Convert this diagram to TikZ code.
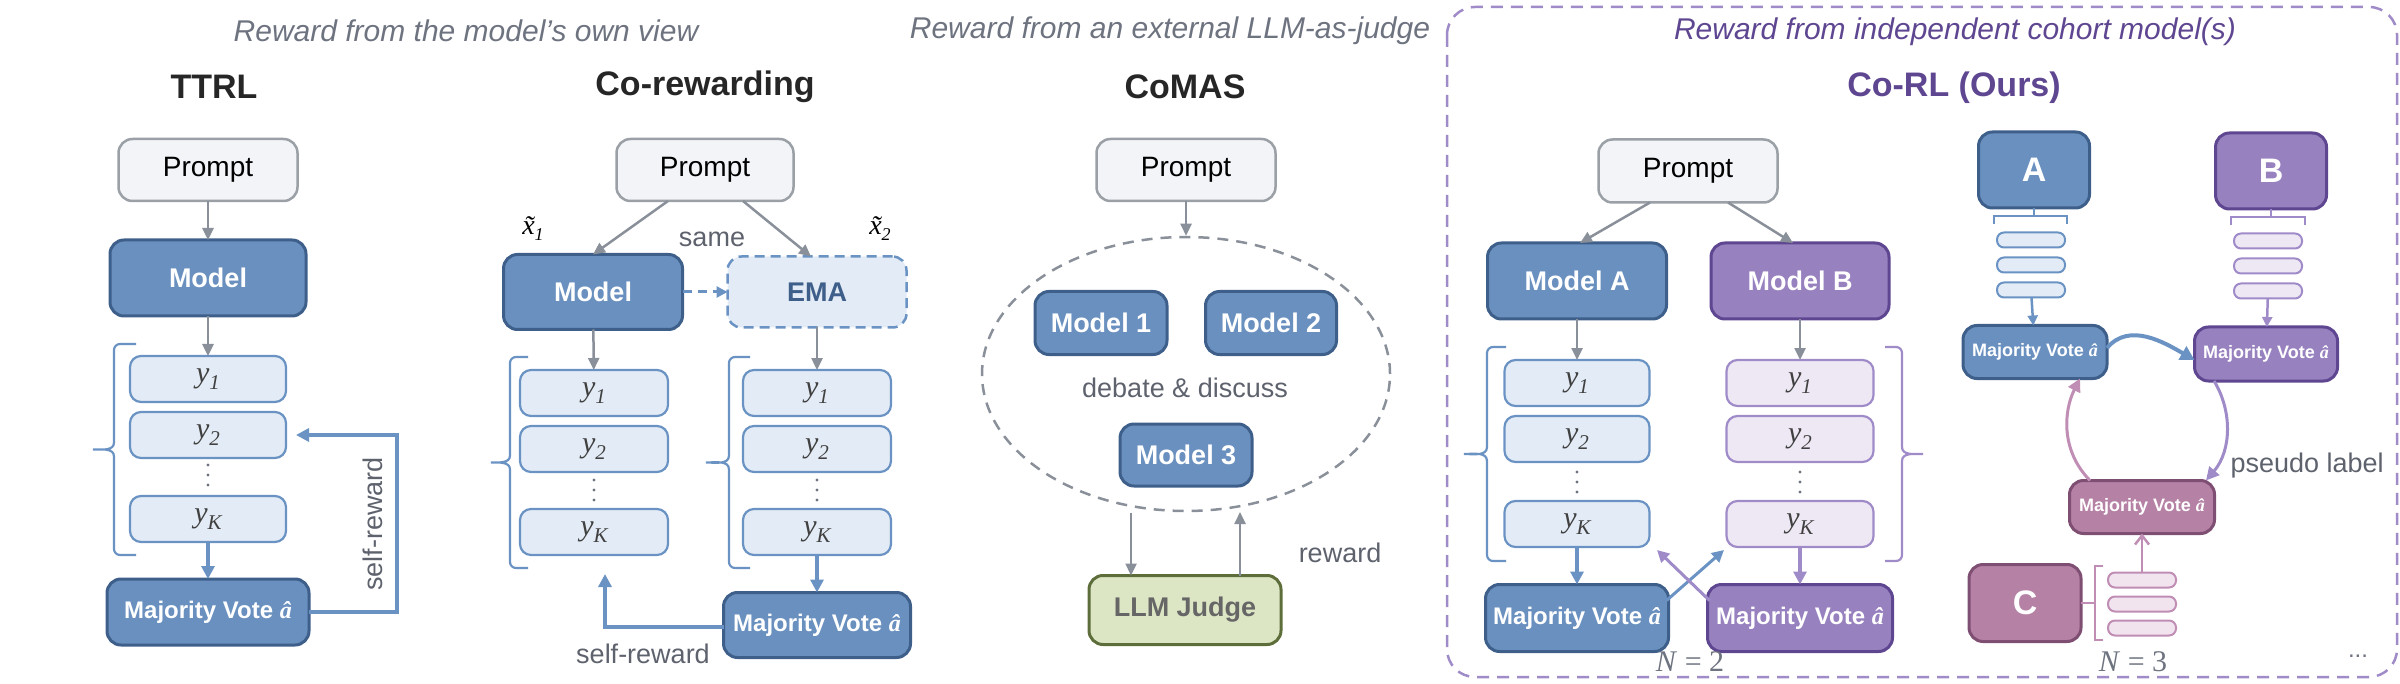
\documentclass[tikz,border=0pt]{standalone}
\usepackage{fontspec}
\setmainfont{Liberation Sans}
\newfontfamily\sr{Liberation Serif}
\usetikzlibrary{arrows.meta,shapes.geometric,calc}
\definecolor{bfill}{HTML}{6990BF}
\definecolor{bdraw}{HTML}{3E5F8A}
\definecolor{lbfill}{HTML}{E3ECF6}
\definecolor{lbdraw}{HTML}{6A93C4}
\definecolor{pfill}{HTML}{9781BF}
\definecolor{pdraw}{HTML}{5E4691}
\definecolor{lpfill}{HTML}{EEE8F5}
\definecolor{lpdraw}{HTML}{A08BC9}
\definecolor{cfill}{HTML}{B581A4}
\definecolor{cdraw}{HTML}{7E4F72}
\definecolor{lcfill}{HTML}{F1E4EE}
\definecolor{lcdraw}{HTML}{C08EB4}
\definecolor{prfill}{HTML}{F2F4F8}
\definecolor{prdraw}{HTML}{9AA0A6}
\definecolor{garr}{HTML}{8A9099}
\definecolor{jfill}{HTML}{DCE6C4}
\definecolor{jdraw}{HTML}{5E6E3A}
\definecolor{ttl}{HTML}{6E7380}
\definecolor{ptl}{HTML}{5E4691}
\newcommand{\fs}[1]{\fontsize{#1}{#1}\selectfont}
\newcommand{\yl}[1]{{\sr\itshape y\raisebox{-0.22em}{\fontsize{21}{21}\selectfont #1}}}
\newcommand{\ah}{{\sr\itshape â}}
\newcommand{\xt}[1]{{\sr\itshape \~{x}\raisebox{-0.22em}{\fontsize{18}{18}\selectfont #1}}}
\newcommand{\vd}[2]{\foreach \k in {-10,0,10}{\fill[ttl] (#1,{-#2+\k}) circle (1.7pt);}}
\newcommand{\mybrL}[6]{\draw[#6,line width=2.2pt] (#2,-#3) -- ({#1+6},-#3) to[out=180,in=90] (#1,{-#3-6}) -- (#1,{-(#3+#4)/2+7}) to[out=-90,in=0] (#5,{-(#3+#4)/2}) to[out=0,in=90] (#1,{-(#3+#4)/2-7}) -- (#1,{-#4+6}) to[out=-90,in=180] ({#1+6},-#4) -- (#2,-#4);}
\newcommand{\mybrR}[6]{\draw[#6,line width=2.2pt] (#2,-#3) -- ({#1-6},-#3) to[out=0,in=90] (#1,{-#3-6}) -- (#1,{-(#3+#4)/2+7}) to[out=-90,in=180] (#5,{-(#3+#4)/2}) to[out=180,in=90] (#1,{-(#3+#4)/2-7}) -- (#1,{-#4+6}) to[out=-90,in=0] ({#1-6},-#4) -- (#2,-#4);}
\begin{document}
\begin{tikzpicture}[x=1pt,y=1pt,
  box/.style={rectangle,rounded corners=14pt,inner sep=0pt,outer sep=0pt,align=center},
  prompt/.style={box,fill=prfill,draw=prdraw,line width=2.5pt,font=\fs{28}},
  dk/.style={box,fill=bfill,draw=bdraw,line width=3pt,text=white,font=\bfseries\fs{27}},
  dp/.style={box,fill=pfill,draw=pdraw,line width=3pt,text=white,font=\bfseries\fs{27}},
  dc/.style={box,fill=cfill,draw=cdraw,line width=3pt,text=white,font=\bfseries\fs{27}},
  ly/.style={box,rounded corners=11pt,fill=lbfill,draw=lbdraw,line width=2.2pt,minimum height=46pt,font=\fs{30},text=black!75},
  lp/.style={ly,fill=lpfill,draw=lpdraw},
  bar/.style={box,rounded corners=7pt,minimum width=68pt,minimum height=15pt,line width=2pt},
  ga/.style={draw=garr,line width=2.5pt,-{Triangle[length=12pt,width=11pt]}},
  ba/.style={draw=lbdraw,line width=3.2pt,-{Triangle[length=13pt,width=13pt]}},
  pa/.style={draw=lpdraw,line width=3.2pt,-{Triangle[length=13pt,width=13pt]}},
  ca/.style={draw=lcdraw,line width=3.2pt,-{Triangle[length=13pt,width=13pt]}},
  ttlf/.style={text=ttl,font=\itshape\fs{30}},
  hd/.style={text=black!85,font=\bfseries\fs{34}},
  lbl/.style={text=ttl!85!black,font=\fs{27}}]
\useasboundingbox (0,0) rectangle (2400,-684);
% titles
\node[ttlf] (t1) at (466,-31) {Reward from the model’s own view};
\node[ttlf] (t2) at (1170,-31) {Reward from an external LLM-as-judge};
\node[ttlf,text=ptl] (t3) at (1955,-32) {Reward from independent cohort model(s)};
\draw[draw=lpdraw,line width=2.5pt,dash pattern=on 12pt off 8pt,rounded corners=28pt] (1447,-7) rectangle (2397,-677);
\node[hd] (h1) at (214,-87) {TTRL};
\node[hd] (h2) at (705,-87) {Co-rewarding};
\node[hd] (h3) at (1185,-87) {CoMAS};
\node[hd,text=ptl] (h4) at (1954,-88) {Co-RL (Ours)};
% ---------- TTRL
\node[prompt,minimum width=179pt,minimum height=62pt] (p1) at (208,-170) {Prompt};
\node[dk,minimum width=196pt,minimum height=76pt] (m1) at (208,-278) {Model};
\node[ly,minimum width=156pt] (a1) at (208,-379) {\yl{1}};
\node[ly,minimum width=156pt] (a2) at (208,-435) {\yl{2}};
\node[ly,minimum width=156pt] (aK) at (208,-519) {\yl{K}};
\vd{208}{475}
\node[dk,minimum width=202pt,minimum height=66pt,font=\bfseries\fs{24}] (v1) at (208,-612) {Majority Vote \ah};
\mybrL{114}{136}{344}{555}{93}{lbdraw}
\draw[ga] (p1) -- (m1);
\draw[ga] (m1) -- (a1);
\draw[ba] (aK) -- (v1);
\coordinate (s1) at (397,-612);
\draw[ba] (v1.east) -- (s1) |- ([xshift=10pt]a2.east);
\node[lbl,rotate=90] (sr1) at (373,-524) {self-reward};
% ---------- Co-rewarding
\node[prompt,minimum width=177pt,minimum height=62pt] (p2) at (705,-170) {Prompt};
\node[dk,minimum width=179pt,minimum height=75pt] (m2) at (593,-292) {Model};
\node[box,fill=lbfill,draw=lbdraw,line width=2.5pt,dash pattern=on 10pt off 6pt,minimum width=179pt,minimum height=71pt,text=bdraw,font=\bfseries\fs{27}] (ema) at (817,-292) {EMA};
\node[font=\fs{28}] (x1) at (533,-229) {\xt{1}};
\node[font=\fs{28}] (x2) at (880,-229) {\xt{2}};
\node[lbl] (same) at (712,-239) {same};
\draw[ga] ([xshift=-37pt]p2.south) -- (m2.north);
\draw[ga] ([xshift=38pt]p2.south) -- ([xshift=-6pt]ema.north);
\draw[draw=lbdraw,line width=3pt,dash pattern=on 9pt off 6pt,-{Triangle[length=11pt,width=11pt]}] (m2) -- (ema);
\foreach \c/\n in {594/L,817/R}{
  \node[ly,minimum width=148pt] (b1\n) at (\c,-393) {\yl{1}};
  \node[ly,minimum width=148pt] (b2\n) at (\c,-449) {\yl{2}};
  \node[ly,minimum width=148pt] (bK\n) at (\c,-532) {\yl{K}};
  \vd{\c}{490}
}
\mybrL{510}{528}{357}{568}{491}{lbdraw}
\mybrL{729}{750}{357}{568}{706}{lbdraw}
\draw[ga] (m2) -- (b1L);
\draw[ga] (ema) -- (b1R);
\node[dk,minimum width=187pt,minimum height=65pt,font=\bfseries\fs{24}] (v2) at (817,-625) {Majority Vote \ah};
\draw[ba] (bKR) -- (v2);
\coordinate (s2) at (605,-574);
\draw[ba] (v2.west |- 0,-627) -| (s2);
\node[lbl] (sr2) at (643,-654) {self-reward};
% ---------- CoMAS
\node[prompt,minimum width=179pt,minimum height=62pt] (p3) at (1186,-170) {Prompt};
\node[ellipse,draw=garr,line width=2.5pt,dash pattern=on 11pt off 8pt,minimum width=408pt,minimum height=274pt,inner sep=0pt] (el) at (1186,-374) {};
\draw[ga] (p3) -- (el.north);
\node[dk,minimum width=132pt,minimum height=63pt] (c1) at (1101,-323) {Model 1};
\node[dk,minimum width=131pt,minimum height=63pt] (c2) at (1271,-323) {Model 2};
\node[lbl] (db) at (1185,-388) {debate \& discuss};
\node[dk,minimum width=132pt,minimum height=62pt] (c3) at (1186,-455) {Model 3};
\node[box,fill=jfill,draw=jdraw,line width=3pt,minimum width=192pt,minimum height=69pt,text=black!60,font=\bfseries\fs{27}] (jd) at (1185,-610) {LLM Judge};
\coordinate (e1) at (1131,-513);
\coordinate (e2) at (1240,-512);
\draw[ga] (e1) -- (e1 |- jd.north);
\draw[ga] (e2 |- jd.north) -- (e2);
\node[lbl] (rw) at (1340,-553) {reward};
% ---------- Co-RL N=2
\node[prompt,minimum width=179pt,minimum height=63pt] (p4) at (1688,-171) {Prompt};
\node[dk,minimum width=179pt,minimum height=76pt] (ma) at (1577,-281) {Model A};
\node[dp,minimum width=178pt,minimum height=76pt] (mb) at (1800,-281) {Model B};
\draw[ga] ([xshift=-38pt]p4.south) -- ([xshift=3pt]ma.north);
\draw[ga] ([xshift=40pt]p4.south) -- ([xshift=-7pt]mb.north);
\node[ly,minimum width=145pt] (d1) at (1577,-383) {\yl{1}};
\node[ly,minimum width=145pt] (d2) at (1577,-439) {\yl{2}};
\node[ly,minimum width=145pt] (dK) at (1577,-524) {\yl{K}};
\vd{1577}{482}
\node[lp,minimum width=147pt] (e1b) at (1800,-383) {\yl{1}};
\node[lp,minimum width=147pt] (e2b) at (1800,-439) {\yl{2}};
\node[lp,minimum width=147pt] (eKb) at (1800,-524) {\yl{K}};
\vd{1800}{482}
\mybrL{1487}{1506}{347}{561}{1464}{lbdraw}
\mybrR{1902}{1885}{347}{561}{1923}{lpdraw}
\draw[ga] (ma) -- (d1);
\draw[ga] (mb) -- (e1b);
\node[dk,minimum width=183pt,minimum height=67pt,font=\bfseries\fs{24}] (va) at (1577,-618) {Majority Vote \ah};
\node[dp,minimum width=185pt,minimum height=67pt,font=\bfseries\fs{24}] (vb) at (1800,-618) {Majority Vote \ah};
\draw[ba] (dK) -- (va);
\draw[pa] (eKb) -- (vb);
\coordinate (xa) at (1724,-550);
\coordinate (xb) at (1657,-550);
\draw[draw=lbdraw,line width=3pt,-{Triangle[length=12pt,width=12pt]}] ([shift={(-2pt,-16pt)}]va.north east) -- (xa);
\draw[draw=lpdraw,line width=3pt,-{Triangle[length=12pt,width=12pt]}] ([shift={(2pt,-16pt)}]vb.north west) -- (xb);
\node[text=ttl,font=\sr\fs{30}] (n2) at (1690,-662) {\textit{N} = 2};
% ---------- Co-RL N=3
\node[dk,minimum width=111pt,minimum height=76pt,font=\bfseries\fs{34}] (A) at (2034,-170) {A};
\node[dp,minimum width=111pt,minimum height=76pt,font=\bfseries\fs{34}] (B) at (2271,-171) {B};
\node[dc,minimum width=112pt,minimum height=77pt,font=\bfseries\fs{34}] (C) at (2025,-603) {C};
\foreach \y/\n in {240/1,265/2,290/3}{
  \node[bar,fill=lbfill,draw=lbdraw] (ra\n) at (2031,-\y) {};
  \node[bar,fill=lpfill,draw=lpdraw] (rb\n) at (2268,{-\y-1}) {};
}
\foreach \y/\n in {580/1,604/2,628/3}{
  \node[bar,fill=lcfill,draw=lcdraw] (rc\n) at (2142,-\y) {};
}
\draw[lbdraw,line width=2.2pt] (1994,-224) -- (1994,-216) -- (2067,-216) -- (2067,-224);
\draw[lbdraw,line width=2.2pt] (A.south) -- (A.south |- 0,-216);
\draw[lpdraw,line width=2.2pt] (2231,-225) -- (2231,-217) -- (2305,-217) -- (2305,-225);
\draw[lpdraw,line width=2.2pt] (B.south) -- (B.south |- 0,-217);
\draw[lcdraw,line width=2.2pt] (2103,-566) -- (2095,-566) -- (2095,-640) -- (2103,-640);
\draw[lcdraw,line width=2.2pt] (C.east |- 0,-603) -- (2095,-603);
\node[dk,minimum width=144pt,minimum height=53pt,font=\bfseries\fs{18}] (wa) at (2035,-352) {Majority Vote \ah};
\node[dp,minimum width=143pt,minimum height=54pt,font=\bfseries\fs{18}] (wb) at (2266,-354) {Majority Vote \ah};
\node[dc,minimum width=145pt,minimum height=53pt,font=\bfseries\fs{18}] (wc) at (2142,-507) {Majority Vote \ah};
\draw[draw=lbdraw,line width=2.5pt,-{Triangle[length=10pt,width=10pt]}] (ra3) -- (wa);
\draw[draw=lpdraw,line width=2.5pt,-{Triangle[length=10pt,width=10pt]}] (rb3) -- (wb);
\draw[draw=lcdraw,line width=2.5pt,-{Straight Barb[length=9pt,width=14pt]}] (rc1) -- (wc);
\draw[draw=lbdraw,line width=4pt,-{Triangle[length=14pt,width=15pt]}] ([yshift=4pt]wa.east) to[out=50,in=150] ([yshift=-6pt]wb.west);
\draw[pa,line width=3pt] ([xshift=-52pt]wb.south) .. controls (2232,-410) and (2232,-450) .. ([xshift=64pt]wc.north);
\draw[ca,line width=3pt] ([xshift=-52pt]wc.north) .. controls (2060,-450) and (2064,-410) .. ([xshift=45pt]wa.south);
\node[lbl,anchor=west] (pl) at (2227,-466) {pseudo label};
\node[text=ttl,font=\sr\fs{30}] (n3) at (2133,-662) {\textit{N} = 3};
\node[text=ttl,font=\fs{24}] (etc) at (2358,-656) {...};
\end{tikzpicture}
\end{document}
